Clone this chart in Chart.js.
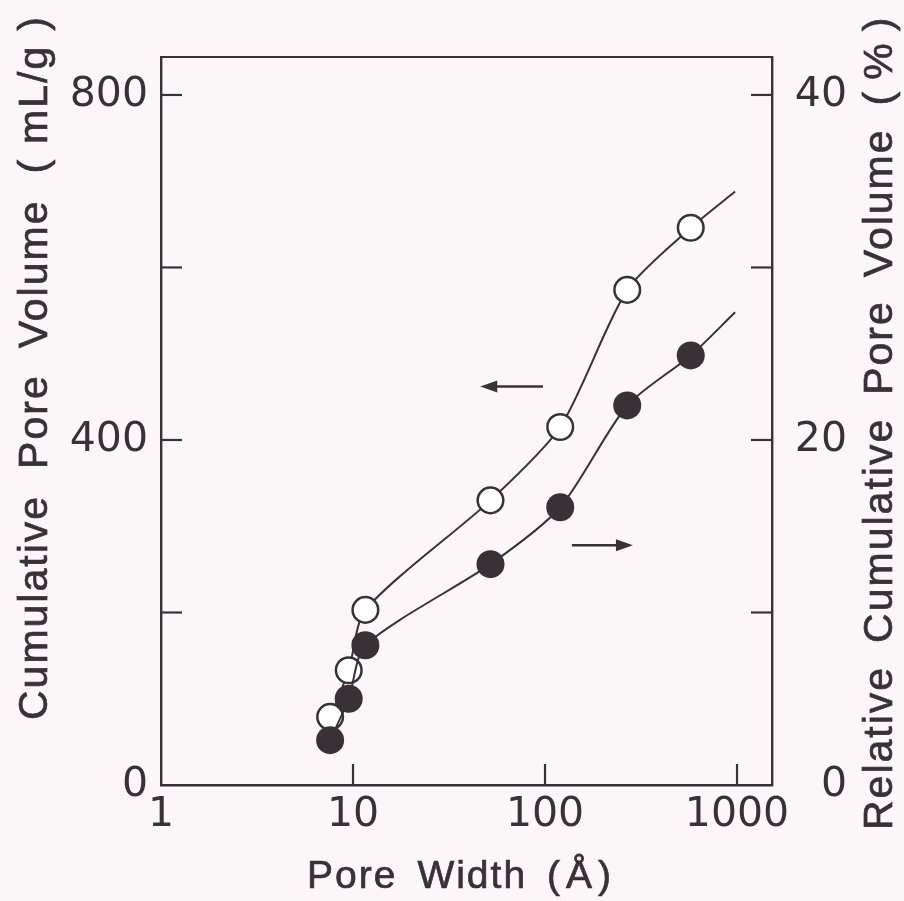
<!DOCTYPE html>
<html>
<head>
<meta charset="utf-8">
<script src="https://cdn.jsdelivr.net/npm/chart.js@4.4.1/dist/chart.umd.min.js"></script>
<style>
html,body{margin:0;padding:0;background:#fbf7f9;}
canvas{display:block;}
</style>
</head>
<body>
<canvas id="c" width="904" height="901"></canvas>
<script>
// ---- data ----
const poreWidths       = [7.6, 9.5, 11.6, 52, 120, 268, 574];       // Å
const cumulativeVolume = [79, 133, 203, 330, 415, 574, 646];        // mL/g (left axis, open circles)
const relativeVolume   = [2.6, 5.0, 8.1, 12.8, 16.1, 22.0, 24.9];   // % (right axis, filled circles)
const curveEndWidth      = 977;   // where the fitted curves stop
const cumulativeCurveEnd = 688;
const relativeCurveEnd   = 27.4;

const xTicks          = [1, 10, 100, 1000];
const leftTicks       = [0, 200, 400, 600, 800];
const leftTickLabels  = [0, 400, 800];
const rightTicks      = [0, 10, 20, 30, 40];
const rightTickLabels = [0, 20, 40];

const xTitle     = 'Pore Width (Å)';
const leftTitle  = 'Cumulative Pore Volume (mL/g)';
const rightTitle = 'Relative Cumulative Pore Volume (%)';

// arrows pointing to the axis each curve belongs to (data coordinates)
const arrowAxes  = ['y', 'y2'];
const arrowFromX = [97.6, 138];
const arrowToX   = [46, 287];
const arrowY     = [462, 13.9];

// ---- styling ----
const ink = '#3a3137';
const tickFont = {family: 'DejaVu Sans', size: 41};

const openPts = poreWidths.map((x, i) => ({x, y: cumulativeVolume[i]}));
openPts.push({x: curveEndWidth, y: cumulativeCurveEnd});
const filledPts = poreWidths.map((x, i) => ({x, y: relativeVolume[i]}));
filledPts.push({x: curveEndWidth, y: relativeCurveEnd});
const openRadius = poreWidths.map(() => 12.8).concat([0]);
const filledRadius = poreWidths.map(() => 14).concat([0]);

// split a title into words and parentheses so the spacing can follow the original typesetting
function tokens(text) {
  return text.replace('(', '( ').replace(')', ' )').split(' ').filter(t => t.length);
}
function tokenLayout(ctx, text, wordGap, parenGap) {
  const tk = tokens(text);
  let x = 0;
  const out = [];
  tk.forEach((t, i) => {
    if (i > 0) {
      const prev = tk[i - 1];
      x += (t === ')' || prev === '(') ? parenGap : wordGap;
    }
    out.push({t, x});
    x += ctx.measureText(t).width;
  });
  return {items: out, width: x};
}
function drawTokens(ctx, layout) {
  layout.items.forEach(it => { ctx.fillText(it.t, it.x, 0); ctx.strokeText(it.t, it.x, 0); });
}

const decorPlugin = {
  id: 'decor',
  afterDraw(chart) {
    const ctx = chart.ctx, a = chart.chartArea;
    const sx = chart.scales.x, sy = chart.scales.y, sy2 = chart.scales.y2;
    ctx.save();
    ctx.strokeStyle = ink;
    ctx.fillStyle = ink;
    ctx.lineWidth = 2.2;
    ctx.lineCap = 'butt';
    const line = (x0, y0, x1, y1) => { ctx.beginPath(); ctx.moveTo(x0, y0); ctx.lineTo(x1, y1); ctx.stroke(); };
    // top frame line
    line(a.left - 1, a.top, a.right + 1, a.top);
    // inward tick marks
    const tl = 21;
    sx.ticks.forEach(t => {
      const p = sx.getPixelForValue(t.value);
      if (p > a.left + 2 && p < a.right - 2) line(p, a.bottom, p, a.bottom - tl);
    });
    sy.ticks.forEach(t => {
      const p = sy.getPixelForValue(t.value);
      if (p < a.bottom - 2) line(a.left, p, a.left + tl, p);
    });
    sy2.ticks.forEach(t => {
      const p = sy2.getPixelForValue(t.value);
      if (p < a.bottom - 2) line(a.right, p, a.right - tl, p);
    });
    // arrows
    ctx.lineWidth = 2.6;
    arrowAxes.forEach((ax, i) => {
      const ys = chart.scales[ax];
      const x0 = sx.getPixelForValue(arrowFromX[i]);
      const x1 = sx.getPixelForValue(arrowToX[i]);
      const y = ys.getPixelForValue(arrowY[i]);
      const dir = Math.sign(x1 - x0);
      line(x0, y, x1 - dir * 10, y);
      ctx.beginPath();
      ctx.moveTo(x1, y);
      ctx.lineTo(x1 - dir * 17, y - 6);
      ctx.lineTo(x1 - dir * 17, y + 6);
      ctx.closePath();
      ctx.fill();
    });
    // axis titles
    try { ctx.letterSpacing = '2px'; } catch (e) {}
    ctx.textBaseline = 'alphabetic';
    ctx.textAlign = 'left';
    ctx.lineWidth = 0.7;
    // bottom title
    ctx.font = '39px "Liberation Sans", Arial, sans-serif';
    {
      const lay = tokenLayout(ctx, xTitle, 20, 4);
      ctx.save();
      ctx.translate(a.left + 146, a.bottom + 103);
      drawTokens(ctx, lay);
      ctx.restore();
    }
    ctx.font = '41px "Liberation Sans", Arial, sans-serif';
    // left title (reads bottom to top)
    {
      const lay = tokenLayout(ctx, leftTitle, 26, 14);
      ctx.save();
      ctx.translate(a.left - 114, a.bottom - 65);
      ctx.rotate(-Math.PI / 2);
      drawTokens(ctx, lay);
      ctx.restore();
    }
    // right title (reads bottom to top)
    {
      const lay = tokenLayout(ctx, rightTitle, 23, 10);
      ctx.save();
      ctx.translate(a.right + 120, a.bottom + 45);
      ctx.rotate(-Math.PI / 2);
      drawTokens(ctx, lay);
      ctx.restore();
    }
    ctx.restore();
  }
};

new Chart(document.getElementById('c'), {
  type: 'line',
  data: {
    datasets: [
      {
        label: 'Relative cumulative pore volume (%)',
        data: filledPts,
        yAxisID: 'y2',
        borderColor: ink,
        borderWidth: 2,
        pointRadius: filledRadius,
        pointBackgroundColor: ink,
        pointBorderColor: ink,
        pointBorderWidth: 0,
        tension: 0.25,
        fill: false,
        clip: false,
        order: 0
      },
      {
        label: 'Cumulative pore volume (mL/g)',
        data: openPts,
        yAxisID: 'y',
        borderColor: ink,
        borderWidth: 2,
        pointRadius: openRadius,
        pointBackgroundColor: '#ffffff',
        pointBorderColor: ink,
        pointBorderWidth: 2.5,
        tension: 0.25,
        fill: false,
        clip: false,
        order: 1
      }
    ]
  },
  options: {
    responsive: false,
    animation: false,
    layout: {padding: {top: 57, right: 57, left: 0, bottom: 0}},
    plugins: {legend: {display: false}, tooltip: {enabled: false}},
    elements: {point: {hoverRadius: 0}},
    scales: {
      x: {
        type: 'logarithmic',
        min: 1,
        max: 1521,
        afterBuildTicks: s => { s.ticks = xTicks.map(v => ({value: v})); },
        afterFit: s => { s.height = 116; },
        grid: {display: false, drawTicks: false},
        border: {display: true, color: ink, width: 2.4},
        ticks: {
          font: tickFont, color: ink, padding: 6,
          autoSkip: false, maxRotation: 0, minRotation: 0,
          callback: v => String(v)
        }
      },
      y: {
        type: 'linear',
        position: 'left',
        min: 0,
        max: 844,
        afterBuildTicks: s => { s.ticks = leftTicks.map(v => ({value: v})); },
        afterFit: s => { s.width = 161; },
        grid: {display: false, drawTicks: false},
        border: {display: true, color: ink, width: 2.4},
        ticks: {
          font: tickFont, color: ink, padding: 13, autoSkip: false,
          callback: v => leftTickLabels.includes(v) ? String(v) : ''
        }
      },
      y2: {
        type: 'linear',
        position: 'right',
        min: 0,
        max: 42.2,
        afterBuildTicks: s => { s.ticks = rightTicks.map(v => ({value: v})); },
        afterFit: s => { s.width = 75; },
        grid: {display: false, drawTicks: false},
        border: {display: true, color: ink, width: 2.4},
        ticks: {
          font: tickFont, color: ink, padding: 20, autoSkip: false,
          crossAlign: 'far',
          callback: v => rightTickLabels.includes(v) ? String(v) : ''
        }
      }
    }
  },
  plugins: [decorPlugin]
});
</script>
</body>
</html>
